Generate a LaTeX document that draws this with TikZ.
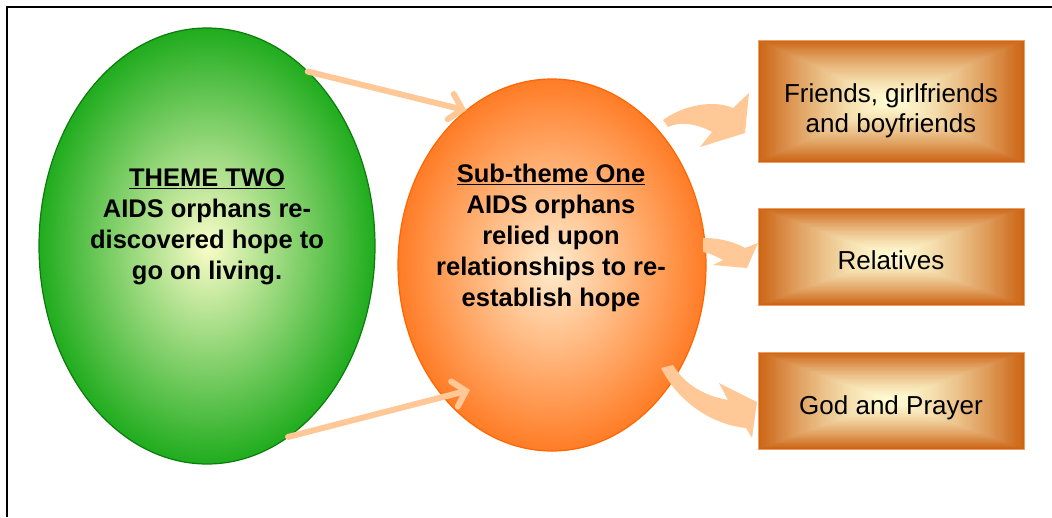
\documentclass[tikz,border=0pt]{standalone}
\usepackage{fontspec}
\setmainfont{Liberation Sans}
\usetikzlibrary{arrows.meta,calc,shapes.geometric}

\definecolor{gin}{RGB}{250,252,200}
\definecolor{gout}{RGB}{32,172,30}
\definecolor{gline}{RGB}{12,125,12}
\definecolor{oin}{RGB}{255,236,205}
\definecolor{oout}{RGB}{255,124,38}
\definecolor{oline}{RGB}{255,102,0}
\definecolor{boxin}{RGB}{255,252,212}
\definecolor{boxout}{RGB}{204,100,20}
\definecolor{boxline}{RGB}{238,158,96}
\definecolor{peach}{RGB}{255,200,150}

\begin{document}
\begin{tikzpicture}[x=1pt,y=-1pt,
  bigtext/.style={align=center, inner sep=0pt, outer sep=0pt,
    font=\fontsize{25.5}{31}\bfseries\selectfont},
  boxtext/.style={align=center, inner sep=0pt, outer sep=0pt,
    font=\fontsize{26}{30}\selectfont},
  link/.style={draw=peach, line width=6pt, line cap=round,
    -{Straight Barb[length=12pt,width=26pt,line cap=round]}},
  blockarrow/.style={fill=peach, draw=none},
  tierbox/.style={draw=boxline, line width=0.8pt, minimum width=266pt,
    minimum height=#1, inner sep=0pt, outer sep=0pt,
    path picture={
      \foreach \i in {0,...,59}{
        \pgfmathsetmacro\s{1-\i/60}
        \pgfmathtruncatemacro\p{100*(\s^1.4)}
        \fill[boxout!\p!boxin]
          ($(path picture bounding box.center)!\s!(path picture bounding box.south west)$)
          rectangle
          ($(path picture bounding box.center)!\s!(path picture bounding box.north east)$);
      }}}
]
\useasboundingbox (0,0) rectangle (1052,517);

% outer frame (left and top edges)
\draw[line width=2pt] (7,517) -- (7,7) -- (1052,7);

% main theme and sub-theme
\node[ellipse, minimum width=336pt, minimum height=436pt, inner sep=0pt,
      outer sep=0pt, draw=gline, line width=1.2pt,
      inner color=gin, outer color=gout] (theme) at (207,246) {};
\node[ellipse, minimum width=308pt, minimum height=372pt, inner sep=0pt,
      outer sep=0pt, draw=oline, line width=1.2pt,
      inner color=oin, outer color=oout] (sub) at (552,265) {};

\node[bigtext, anchor=north] (themetext) at (207,169)
  {\underline{THEME TWO}\\AIDS orphans re-\\discovered hope to\\go on living.};
\node[bigtext, anchor=north] (subtext) at (551,164)
  {\underline{Sub-theme One}\\AIDS orphans\\relied upon\\relationships to re-\\establish hope};

% links from theme to sub-theme
\coordinate (subentry) at ($(sub.center)+(-82,125)$);
\draw[link] (theme.60.7) -- (sub.119.3);
\draw[link] (theme.-67) -- (subentry);

% the three relationship boxes
\node[tierbox=122pt] (friends) at (891,101) {};
\node[tierbox=97pt] (relatives) at (891,256.5) {};
\node[tierbox=97pt] (god) at (891,400.5) {};

\node[boxtext, anchor=north] (friendstext) at (891,84)
  {Friends, girlfriends\\and boyfriends};
\node[boxtext, anchor=north] (relativestext) at (891,251) {Relatives};
\node[boxtext, anchor=north] (godtext) at (891,396) {God and Prayer};

% curved block arrows from the sub-theme to the boxes
\path[blockarrow] (663,120) .. controls (685,104) and (715,100) .. (733,108)
  -- (749,93) -- (745,133) -- (700,147) -- (712,132)
  .. controls (698,124) and (680,121) .. (668,127) -- cycle;
\path[blockarrow] (703,238) .. controls (720,238) and (735,242) .. (745,248)
  -- (758,243) -- (747,268) -- (713,265) -- (723,260)
  .. controls (715,256) and (710,253) .. (703,252) -- cycle;
\path[blockarrow] (673,365) .. controls (685,385) and (705,396) .. (728,400)
  -- (719,383) -- (757,402) -- (752,438) -- (746,428)
  .. controls (715,425) and (680,405) .. (661,368) -- cycle;
\end{tikzpicture}
\end{document}
